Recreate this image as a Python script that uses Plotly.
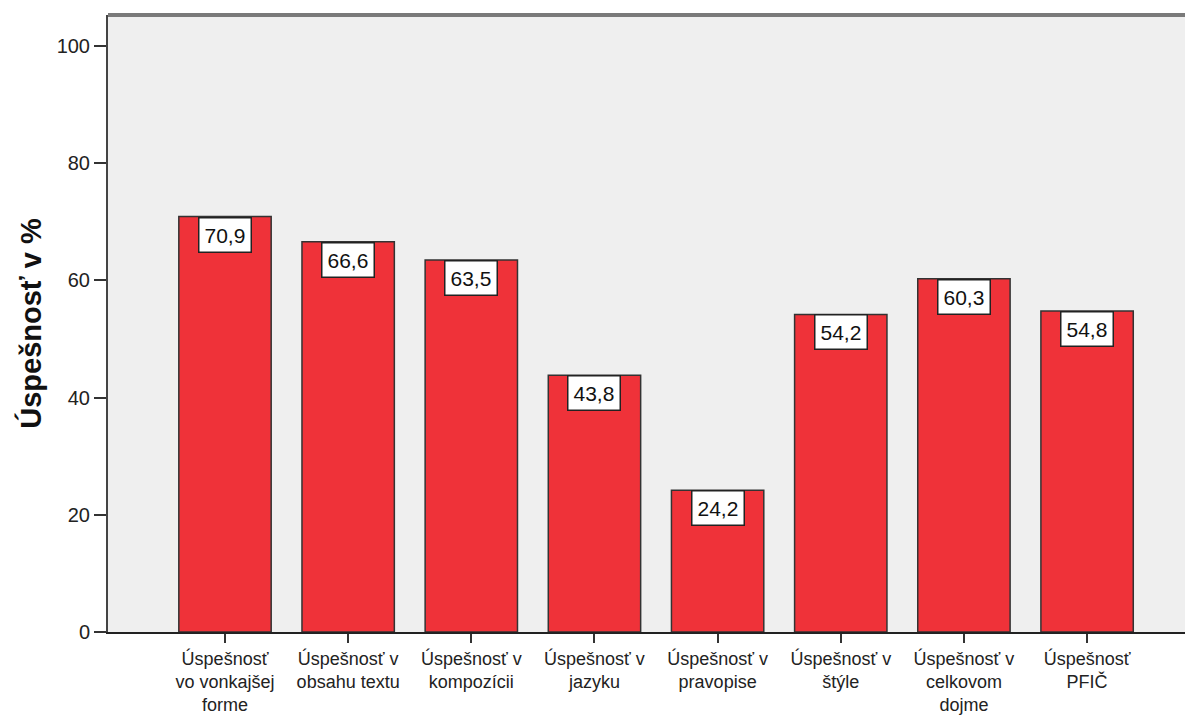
import plotly.graph_objects as go

categories = [
    "Úspešnosť<br>vo vonkajšej<br>forme",
    "Úspešnosť v<br>obsahu textu",
    "Úspešnosť v<br>kompozícii",
    "Úspešnosť v<br>jazyku",
    "Úspešnosť v<br>pravopise",
    "Úspešnosť v<br>štýle",
    "Úspešnosť v<br>celkovom<br>dojme",
    "Úspešnosť<br>PFIČ",
]
values = [70.9, 66.6, 63.5, 43.8, 24.2, 54.2, 60.3, 54.8]
y_ticks = [0, 20, 40, 60, 80, 100]
y_title = "Úspešnosť v %"

FONT = "Liberation Sans, Arial, sans-serif"
x_idx = list(range(len(categories)))

fig = go.Figure()
fig.add_trace(go.Bar(
    x=x_idx, y=values,
    marker=dict(color="rgb(239,50,57)", line=dict(color="#333333", width=1.5)),
    width=0.75,
    hoverinfo="skip",
))

for i, v in enumerate(values):
    fig.add_annotation(
        x=i, y=v, xref="x", yref="y",
        text=f"{v:.1f}".replace(".", ","),
        showarrow=False, yanchor="top", xanchor="center",
        font=dict(family=FONT, size=21, color="#111111"),
        bgcolor="white", bordercolor="#222222", borderwidth=1.5, borderpad=5,
    )

fig.add_shape(type="line", xref="paper", yref="paper", x0=0, x1=1, y0=1, y1=1,
              line=dict(color="#7a7a7a", width=4))

fig.update_layout(
    width=1185, height=707,
    margin=dict(l=100, r=0, t=7, b=83, autoexpand=False),
    paper_bgcolor="white", plot_bgcolor="#EFEFEF",
    showlegend=False,
    font=dict(family=FONT, color="#222222"),
    xaxis=dict(
        range=[-0.95, 7.86], tickmode="array", tickvals=x_idx, ticktext=categories,
        ticks="outside", ticklen=9, tickwidth=1.5, tickcolor="#333333",
        showline=True, linecolor="#222222", linewidth=2,
        showgrid=False, zeroline=False, automargin=False,
        tickfont=dict(family=FONT, size=18, color="#222222"),
        tickangle=0,
    ),
    yaxis=dict(
        range=[0, 105.3], tickmode="array", tickvals=y_ticks,
        ticktext=[str(t) for t in y_ticks],
        ticks="outside", ticklen=12, tickwidth=2, tickcolor="#333333",
        showline=True, linecolor="#444444", linewidth=2,
        showgrid=False, zeroline=False, automargin=False,
        tickfont=dict(family=FONT, size=20, color="#222222"),
        title=dict(text="<b>" + y_title + "</b>", font=dict(family=FONT, size=29, color="#111111"),
                   standoff=6),
    ),
)

fig.write_html("out.html")
